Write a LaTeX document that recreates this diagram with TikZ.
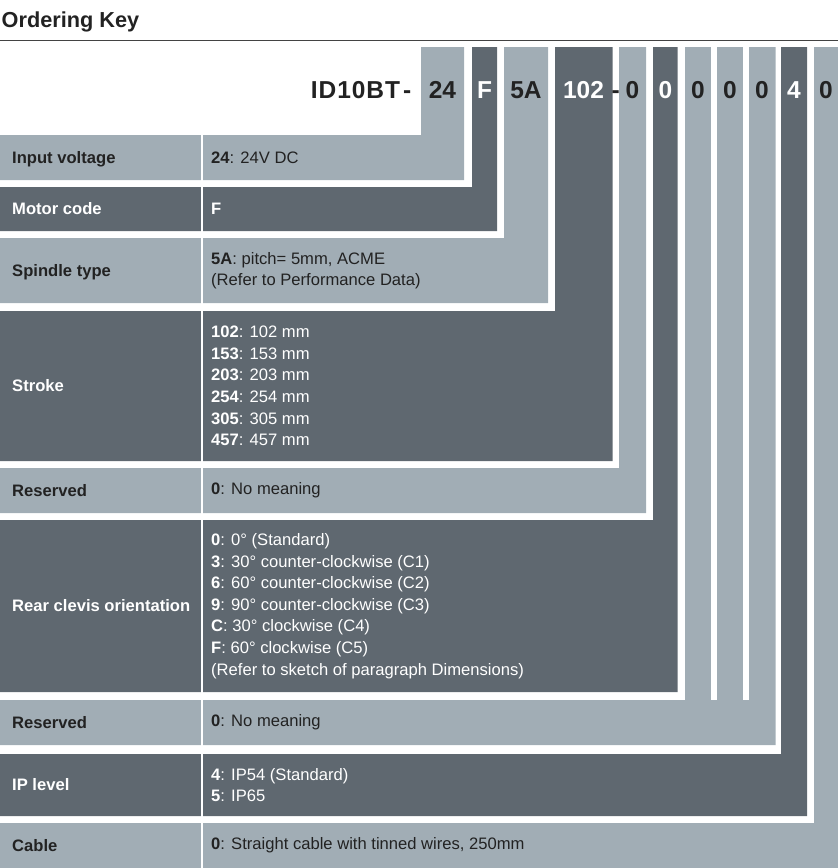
\documentclass[tikz,border=0pt]{standalone}
\usepackage{fontspec}
\setmainfont{Liberation Sans}
\definecolor{keylight}{HTML}{A1ADB5}
\definecolor{keydark}{HTML}{5F6870}
\definecolor{keyink}{HTML}{222222}
\tikzset{
  lightbar/.style={fill=keylight},
  darkbar/.style={fill=keydark},
  codetext/.style={font=\fontsize{24.5}{26}\selectfont\bfseries, inner sep=0pt, text height=17.6pt, text depth=0pt},
  rowlabel/.style={anchor=west, font=\fontsize{16.6}{21.6}\selectfont\bfseries, inner sep=0pt, text height=11.9pt, text depth=0pt},
  rowtext/.style={anchor=west, align=left, font=\fontsize{16.6}{21.6}\selectfont, inner sep=0pt},
  onlight/.style={text=keyink},
  ondark/.style={text=white}
}
\begin{document}
\begin{tikzpicture}[x=1pt,y=-1pt]
    \useasboundingbox (0,0) rectangle (838,868);
    \node[anchor=base west, inner sep=0pt, text=keyink, font=\fontsize{21.7}{24}\selectfont\bfseries] (title) at (1.5,27.3) {Ordering Key};
    \draw[keyink!85, line width=1.5pt] (0,40.3) -- (838,40.3);
    % one L-shaped band per digit group: top/bottom of row, left/right of column
    \foreach \t/\b/\l/\r/\s in {135/180/421/464/lightbar, 187/231/472/497/darkbar,
        238/303/504/548/lightbar, 311/461/555/612.5/darkbar, 468/513/619/646/lightbar,
        520/692/653/677.5/darkbar, 700/745/749/775.5/lightbar, 754/816/781/807/darkbar,
        823/868/814/838/lightbar}
        \fill[\s] (0,\t) -- (\l,\t) -- (\l,47) -- (\r,47) -- (\r,\b) -- (0,\b) -- cycle;
    \fill[lightbar] (685,47) rectangle (711,701);
    \fill[lightbar] (717,47) rectangle (743,701);
    \draw[white, line width=2pt] (202,135) -- (202,868);
    % the ordering code
    \node[codetext, onlight, anchor=east] (codebase) at (411.5,89.5) {\addfontfeature{LetterSpace=4}ID10BT\kern3pt-};
    \node[codetext, onlight] (code24) at (442.5,89.5) {24};
    \node[codetext, ondark] (codeF) at (484.5,89.5) {F};
    \node[codetext, onlight] (code5A) at (526,89.5) {5A};
    \node[codetext, ondark] (code102) at (583.5,89.5) {102};
    \node[codetext, onlight] (codedash) at (615.8,89.5) {-};
    \node[codetext, onlight] (coderes) at (632.5,89.5) {0};
    \node[codetext, ondark] (coderear) at (665.5,89.5) {0};
    \node[codetext, onlight] (codea) at (698,89.5) {0};
    \node[codetext, onlight] (codeb) at (730,89.5) {0};
    \node[codetext, onlight] (codec) at (762,89.5) {0};
    \node[codetext, ondark] (codeip) at (794,89.5) {4};
    \node[codetext, onlight] (codecable) at (826,89.5) {0};
    % row labels and descriptions
    \node[rowlabel, onlight] (lblvolt) at (12,157.5) {Input voltage};
    \node[rowtext, onlight] (txtvolt) at (211,157.5) {\textbf{24}: 24V DC};
    \node[rowlabel, ondark] (lblmotor) at (12,209) {Motor code};
    \node[rowtext, ondark] (txtmotor) at (211,209) {\textbf{F}};
    \node[rowlabel, onlight] (lblspindle) at (12,270.5) {Spindle type};
    \node[rowtext, onlight] (txtspindle) at (211,270.5) {\textbf{5A}: pitch= 5mm, ACME\\(Refer to Performance Data)};
    \node[rowlabel, ondark] (lblstroke) at (12,386) {Stroke};
    \node[rowtext, ondark] (txtstroke) at (211,386) {\textbf{102}: 102 mm\\\textbf{153}: 153 mm\\\textbf{203}: 203 mm\\\textbf{254}: 254 mm\\\textbf{305}: 305 mm\\\textbf{457}: 457 mm};
    \node[rowlabel, onlight] (lblresa) at (12,490.5) {Reserved};
    \node[rowtext, onlight] (txtresa) at (211,490.5) {\textbf{0}: No meaning};
    \node[rowlabel, ondark] (lblrear) at (12,606) {Rear clevis orientation};
    \node[rowtext, ondark] (txtrear) at (211,606) {\textbf{0}: 0° (Standard)\\\textbf{3}: 30° counter-clockwise (C1)\\\textbf{6}: 60° counter-clockwise (C2)\\\textbf{9}: 90° counter-clockwise (C3)\\\textbf{C}: 30° clockwise (C4)\\\textbf{F}: 60° clockwise (C5)\\(Refer to sketch of paragraph Dimensions)};
    \node[rowlabel, onlight] (lblresb) at (12,722.5) {Reserved};
    \node[rowtext, onlight] (txtresb) at (211,722.5) {\textbf{0}: No meaning};
    \node[rowlabel, ondark] (lblip) at (12,785) {IP level};
    \node[rowtext, ondark] (txtip) at (211,785) {\textbf{4}: IP54 (Standard)\\\textbf{5}: IP65};
    \node[rowlabel, onlight] (lblcable) at (12,845.5) {Cable};
    \node[rowtext, onlight] (txtcable) at (211,845.5) {\textbf{0}: Straight cable with tinned wires, 250mm};
\end{tikzpicture}
\end{document}
